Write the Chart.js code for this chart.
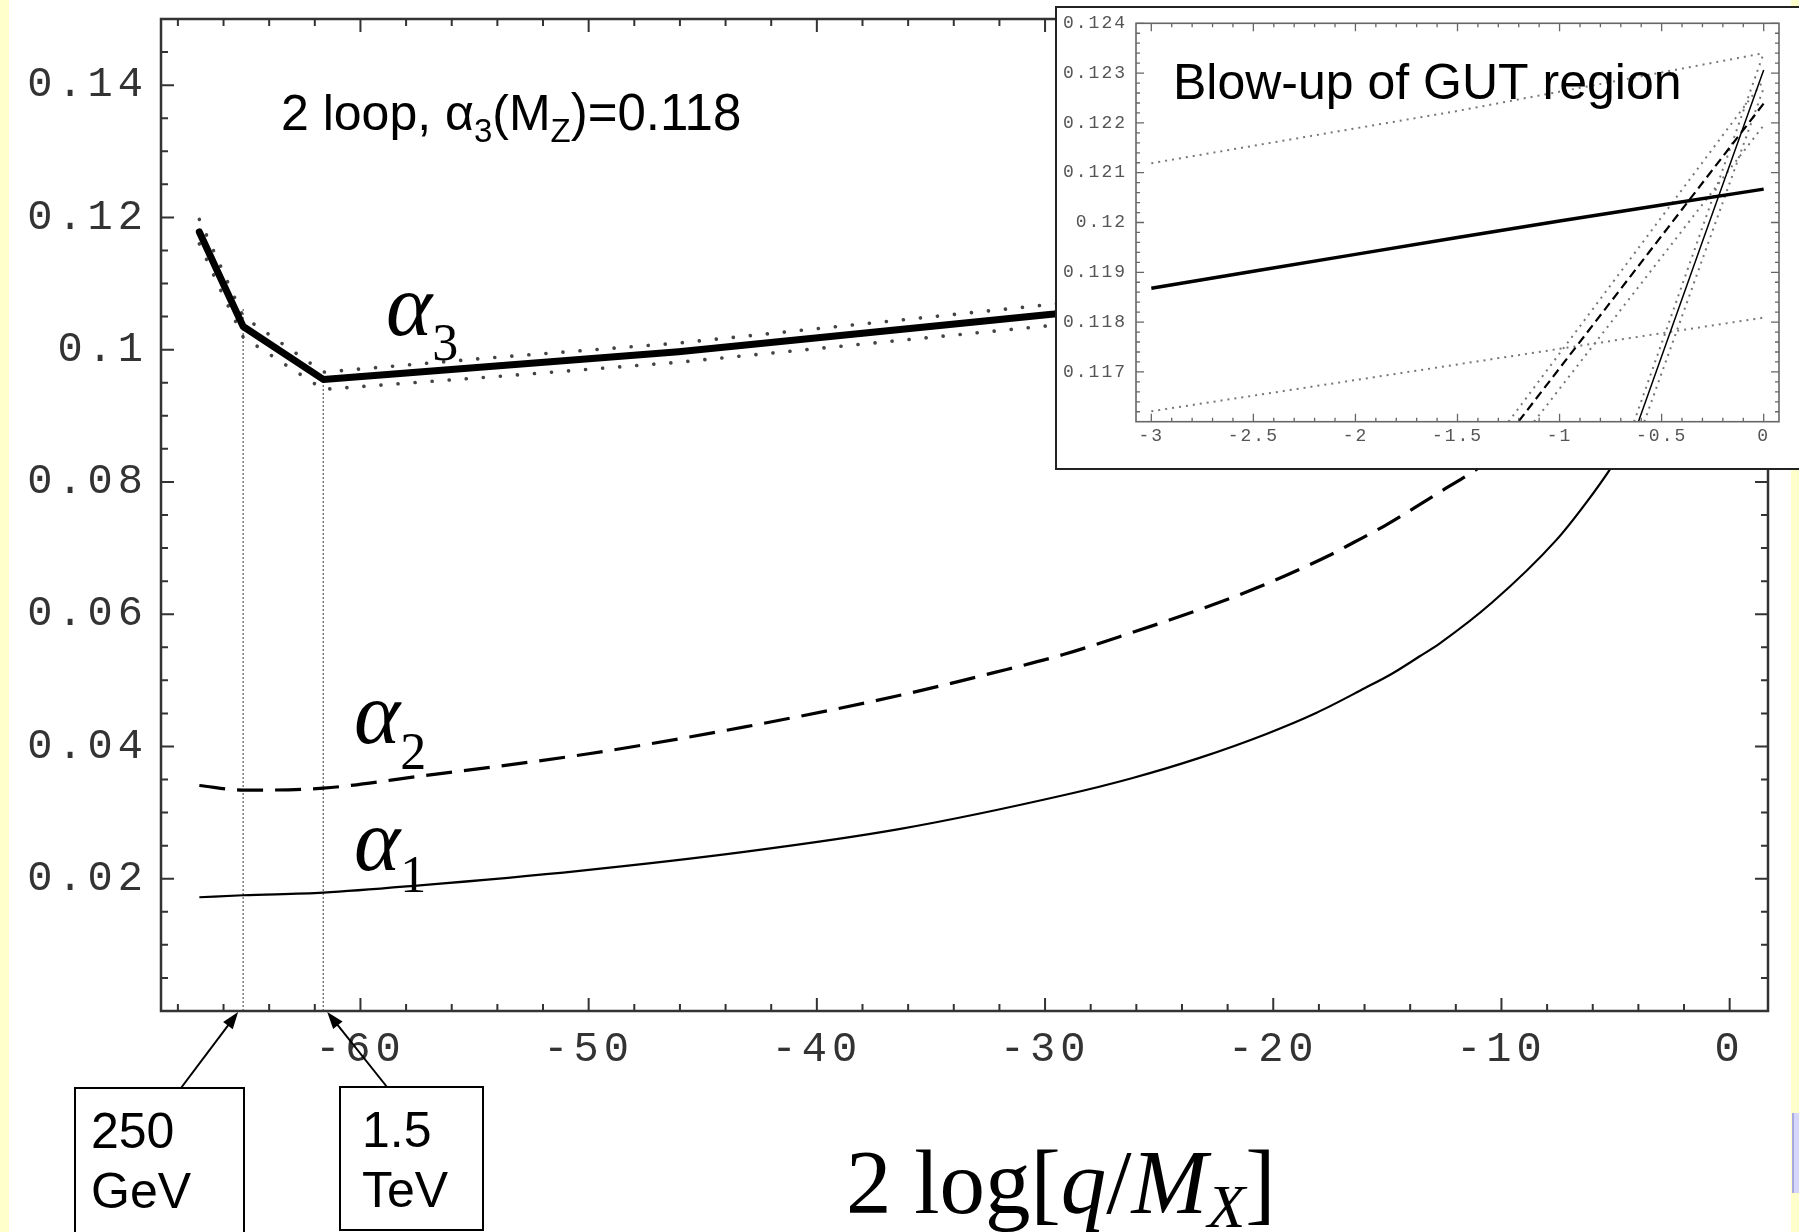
<!DOCTYPE html>
<html>
<head>
<meta charset="utf-8">
<script src="https://cdn.jsdelivr.net/npm/chart.js@4.4.1/dist/chart.umd.min.js"></script>
<style>
  html, body { margin: 0; padding: 0; background: #fff; overflow: hidden; }
  #page { position: relative; width: 1799px; height: 1232px; background: #fff; overflow: hidden; }
  .strip { position: absolute; top: 0; height: 1232px; background: #ffffcc; }
  #navTab { position: absolute; left: 1792px; top: 1113px; width: 12px; height: 80px;
            background: #d6d6fa; border-left: 2px solid #a8a8e0; }
  #mainChart { position: absolute; left: 0; top: 0; }
  #inset { position: absolute; left: 1055px; top: 6px; width: 760px; height: 460px;
           border: 2px solid #222; background: #fff; }
  #insetChart { display: block; }
</style>
</head>
<body>
<div id="page">
  <div class="strip" style="left:0;width:9px"></div>
  <div class="strip" style="left:1791px;width:8px"></div>
  <div id="navTab"></div>
  <canvas id="mainChart" width="1799" height="1232"></canvas>
  <div id="inset"><canvas id="insetChart" width="760" height="460"></canvas></div>
</div>
<script>
// couplings vs 2 log(q/M_X), two-loop running, alpha3(MZ) = 0.118
const a3X  = [-67.06, -66.1, -65.14, -61.63, -54.2, -46.06, -29.6, -20, -10, -3, 0];
const a3Y  = [0.1178, 0.1106, 0.1035, 0.0955, 0.0975, 0.0997, 0.1054, 0.1099, 0.1148, 0.1187, 0.1207];
const a3Hi = [0.1197, 0.1124, 0.1050, 0.0966, 0.0988, 0.1010, 0.1069, 0.1116, 0.1168, 0.1212, 0.1234];
const a3Lo = [0.1160, 0.1088, 0.1019, 0.0940, 0.0959, 0.0981, 0.1037, 0.1080, 0.1126, 0.1162, 0.1181];

const a2X = [-67.06, -65.14, -61.63, -57.4, -50, -43.1, -36.4, -32.2, -29.2, -26.3, -23.4, -20.5,
             -17.6, -16.5, -15.1, -13.8, -12.5, -11.1, -9, -7, -5, -3, -1.2, 0];
const a2Y = [0.0341, 0.0334, 0.0337, 0.0355, 0.0389, 0.0430, 0.0477, 0.0512, 0.0539, 0.0571, 0.0605, 0.0643,
             0.0688, 0.0708, 0.0734, 0.0761, 0.0789, 0.0819, 0.0874, 0.0933, 0.1001, 0.1080, 0.1160, 0.1224];

const a1X = [-67.06, -65.14, -61.63, -57.4, -50.4, -43.1, -36.4, -29.1, -26.2, -23.3, -20.3, -18.1,
             -16, -14.8, -13.6, -12.7, -10.4, -7.6, -6.3, -5.15, -4, -3, -2, -1, -0.61, 0];
const a1Y = [0.0172, 0.0175, 0.0179, 0.0190, 0.0212, 0.0241, 0.0275, 0.0327, 0.0352, 0.0382, 0.0419, 0.0451,
             0.0488, 0.0510, 0.0536, 0.0556, 0.0618, 0.0712, 0.0768, 0.0824, 0.0889, 0.0956, 0.1033, 0.1123, 0.1162, 0.1231];

// 250 GeV and 1.5 TeV thresholds
const thresholdX   = [-65.14, -61.63];
const thresholdTop = [0.1063, 0.0960];
const thresholdTags = [['250', 'GeV'], ['1.5', 'TeV']];

const xTicks = [-60, -50, -40, -30, -20, -10, 0];
const yTicks = [0.02, 0.04, 0.06, 0.08, 0.1, 0.12, 0.14];

// blow-up near the unification point
const inA3X  = [-3, -2.5, -2, -1.5, -1, -0.5, 0];
const inA3Y  = [0.11868, 0.11902, 0.11936, 0.11970, 0.12003, 0.12035, 0.12067];
const inA3BandX = [-3, -1.5, 0];
const inA3Hi = [0.12119, 0.12224, 0.12340];
const inA3Lo = [0.11621, 0.11715, 0.11809];
const inA2X  = [-1.2, -0.6, 0];
const inA2Y  = [0.11601, 0.11920, 0.12239];
const inA2HiX = [-1.25, 0],  inA2Hi = [0.116, 0.12285];
const inA2LoX = [-1.125, 0], inA2Lo = [0.116, 0.12195];
const inA1X  = [-0.613, -0.3, 0];
const inA1Y  = [0.11601, 0.11962, 0.12306];
const inA1HiX = [-0.635, 0], inA1Hi = [0.116, 0.1234];
const inA1LoX = [-0.585, 0], inA1Lo = [0.116, 0.1227];

const inXTicks = [-3, -2.5, -2, -1.5, -1, -0.5, 0];
const inYTicks = [0.117, 0.118, 0.119, 0.12, 0.121, 0.122, 0.123, 0.124];

const pts = (xs, ys) => xs.map((x, i) => ({ x, y: ys[i] }));
const range = (a, b, step) => { const r = []; for (let v = a; v <= b + 1e-9; v += step) r.push(+v.toFixed(6)); return r; };

function line(data, width, extra) {
  return Object.assign({ data, borderColor: '#000', borderWidth: width, pointRadius: 0,
                         tension: 0, fill: false, borderJoinStyle: 'round' }, extra || {});
}

// scale fitted to a fixed size, no room kept for overhanging end labels
function fixedSize(prop, size) {
  return s => {
    s[prop] = size;
    s.paddingTop = 0; s.paddingBottom = 0; s.paddingLeft = 0; s.paddingRight = 0;
  };
}

// inward Mathematica-style ticks on all four sides plus the frame
function frameTicks(o) {
  return {
    id: 'frameTicks',
    beforeDraw(chart) { chart.ctx.letterSpacing = o.spacing; },
    beforeDatasetsDraw(chart) { chart.ctx.letterSpacing = '0px'; },
    afterDraw(chart) {
      const { ctx, chartArea: a, scales: { x, y } } = chart;
      ctx.save();
      ctx.strokeStyle = o.color;
      ctx.lineWidth = o.tickWidth;
      ctx.beginPath();
      const xs = (vals, len) => vals.forEach(v => {
        const p = x.getPixelForValue(v);
        ctx.moveTo(p, a.bottom); ctx.lineTo(p, a.bottom - len);
        ctx.moveTo(p, a.top); ctx.lineTo(p, a.top + len);
      });
      const ys = (vals, len) => vals.forEach(v => {
        const p = y.getPixelForValue(v);
        ctx.moveTo(a.left, p); ctx.lineTo(a.left + len, p);
        ctx.moveTo(a.right, p); ctx.lineTo(a.right - len, p);
      });
      xs(o.xMajor, o.major); xs(o.xMinor, o.minor);
      ys(o.yMajor, o.major); ys(o.yMinor, o.minor);
      ctx.stroke();
      ctx.lineWidth = o.frameWidth;
      ctx.strokeRect(a.left, a.top, a.right - a.left, a.bottom - a.top);
      ctx.restore();
    }
  };
}

function drawRuns(ctx, x, y, runs) {
  for (const [t, font, dy] of runs) {
    ctx.font = font;
    ctx.fillText(t, x, y + dy);
    x += ctx.measureText(t).width;
  }
  return x;
}

function arrow(ctx, x0, y0, x1, y1) {
  const ang = Math.atan2(y1 - y0, x1 - x0), L = 17, W = 6;
  ctx.beginPath(); ctx.moveTo(x0, y0);
  ctx.lineTo(x1 - Math.cos(ang) * L * 0.8, y1 - Math.sin(ang) * L * 0.8); ctx.stroke();
  ctx.beginPath();
  ctx.moveTo(x1, y1);
  ctx.lineTo(x1 - Math.cos(ang) * L - Math.sin(ang) * W, y1 - Math.sin(ang) * L + Math.cos(ang) * W);
  ctx.lineTo(x1 - Math.cos(ang) * L + Math.sin(ang) * W, y1 - Math.sin(ang) * L - Math.cos(ang) * W);
  ctx.closePath(); ctx.fill();
}

const mainLabels = {
  id: 'mainLabels',
  afterDraw(chart) {
    const { ctx, scales: { x } } = chart;
    ctx.save();
    ctx.fillStyle = '#000';
    ctx.strokeStyle = '#000';
    ctx.textBaseline = 'alphabetic';
    const sans = n => n + 'px "Liberation Sans", Arial, sans-serif';
    const serif = (n, it) => (it ? 'italic ' : '') + n + 'px "Liberation Serif", "Times New Roman", serif';

    drawRuns(ctx, 281, 130, [['2 loop, α', sans(50), 0], ['3', sans(33), 12],
      ['(M', sans(50), 0], ['Z', sans(33), 12], [')=0.118', sans(51), 0]]);

    drawRuns(ctx, 386, 335, [['α', serif(88, true), 0], ['3', serif(52), 25]]);
    drawRuns(ctx, 354, 743, [['α', serif(88, true), 0], ['2', serif(52), 26]]);
    drawRuns(ctx, 354, 870, [['α', serif(88, true), 0], ['1', serif(52), 22]]);

    drawRuns(ctx, 846, 1213, [['2 log[', serif(91), 0], ['q', serif(91, true), 0], ['/', serif(91), 0],
      ['M', serif(91, true), 0], ['X', serif(62, true), 14], [']', serif(91), 0]]);

    // threshold boxes with arrows onto the axis
    const boxes = [{ l: 75, t: 1088, w: 169, h: 160, tail: 181, dx: -5 },
                   { l: 340, t: 1087, w: 143, h: 143, tail: 387, dx: 4 }];
    ctx.lineWidth = 2;
    boxes.forEach((b, i) => {
      ctx.strokeRect(b.l, b.t, b.w, b.h);
      ctx.font = sans(50);
      ctx.fillText(thresholdTags[i][0], b.l + (i ? 22 : 16), b.t + 60);
      ctx.fillText(thresholdTags[i][1], b.l + (i ? 22 : 16), b.t + 120);
      arrow(ctx, b.tail, b.t, x.getPixelForValue(thresholdX[i]) + b.dx, chart.chartArea.bottom + 1);
    });
    ctx.restore();
  }
};

const tickFont = { family: '"Liberation Mono", "Courier New", monospace', size: 42 };

new Chart(document.getElementById('mainChart'), {
  type: 'line',
  data: {
    datasets: [
      line(pts(a3X, a3Y), 7, { borderCapStyle: 'round' }),
      line(pts(a2X, a2Y), 3.2, { borderDash: [26, 12], cubicInterpolationMode: 'monotone' }),
      line(pts(a1X, a1Y), 2.2, { cubicInterpolationMode: 'monotone' }),
      line(pts(a3X, a3Hi), 3.6, { borderColor: '#444', borderDash: [0.1, 17], borderCapStyle: 'round' }),
      line(pts(a3X, a3Lo), 3.6, { borderColor: '#444', borderDash: [0.1, 17], borderCapStyle: 'round' }),
      ...thresholdX.map((tx, i) => line([{ x: tx, y: 0 }, { x: tx, y: thresholdTop[i] }], 1.3,
        { borderColor: '#666', borderDash: [2, 2] }))
    ]
  },
  options: {
    responsive: false,
    animation: false,
    events: [],
    layout: { padding: { top: 19, right: 31, left: 0, bottom: 0 } },
    plugins: { legend: { display: false }, tooltip: { enabled: false } },
    scales: {
      x: {
        type: 'linear', min: -68.74, max: 1.68,
        grid: { display: false, drawTicks: false }, border: { display: false },
        ticks: { font: tickFont, color: '#333', padding: 14, maxRotation: 0, autoSkip: false,
                 callback: v => String(v) },
        afterBuildTicks: s => { s.ticks = xTicks.map(v => ({ value: v })); },
        afterFit: fixedSize('height', 221)
      },
      y: {
        type: 'linear', min: 0, max: 0.15,
        grid: { display: false, drawTicks: false }, border: { display: false },
        ticks: { font: tickFont, color: '#333', padding: 13, autoSkip: false,
                 callback: v => String(v) },
        afterBuildTicks: s => { s.ticks = yTicks.map(v => ({ value: v })); },
        afterFit: fixedSize('width', 161)
      }
    }
  },
  plugins: [
    frameTicks({ color: '#333', tickWidth: 2, frameWidth: 2.5, major: 13, minor: 7, spacing: '5px',
                 xMajor: xTicks, xMinor: range(-68, 0, 2).filter(v => v % 10 !== 0),
                 yMajor: yTicks, yMinor: range(0.005, 0.145, 0.005).filter(v => Math.round(v * 1000) % 20 !== 0) }),
    mainLabels
  ]
});

const insetTitle = {
  id: 'insetTitle',
  afterDraw(chart) {
    const ctx = chart.ctx;
    ctx.save();
    ctx.fillStyle = '#000';
    ctx.font = '50px "Liberation Sans", Arial, sans-serif';
    ctx.fillText('Blow-up of GUT region', 116, 91);
    ctx.restore();
  }
};

const dotted = (data) => line(data, 2, { borderColor: '#777', borderDash: [2, 5] });
const inFont = { family: '"Liberation Mono", "Courier New", monospace', size: 18 };

new Chart(document.getElementById('insetChart'), {
  type: 'line',
  data: {
    datasets: [
      line(pts(inA3X, inA3Y), 3.5),
      line(pts(inA2X, inA2Y), 2.2, { borderDash: [9, 5] }),
      line(pts(inA1X, inA1Y), 1.5),
      dotted(pts(inA3BandX, inA3Hi)),
      dotted(pts(inA3BandX, inA3Lo)),
      dotted(pts(inA2HiX, inA2Hi)),
      dotted(pts(inA2LoX, inA2Lo)),
      dotted(pts(inA1HiX, inA1Hi)),
      dotted(pts(inA1LoX, inA1Lo))
    ]
  },
  options: {
    responsive: false,
    animation: false,
    events: [],
    layout: { padding: { top: 15.3, right: 38, left: 0, bottom: 0 } },
    plugins: { legend: { display: false }, tooltip: { enabled: false } },
    scales: {
      x: {
        type: 'linear', min: -3.075, max: 0.075,
        grid: { display: false, drawTicks: false }, border: { display: false },
        ticks: { font: inFont, color: '#555', padding: 4, maxRotation: 0, autoSkip: false,
                 callback: v => String(v) },
        afterBuildTicks: s => { s.ticks = inXTicks.map(v => ({ value: v })); },
        afterFit: fixedSize('height', 46.3)
      },
      y: {
        type: 'linear', min: 0.116, max: 0.124,
        grid: { display: false, drawTicks: false }, border: { display: false },
        ticks: { font: inFont, color: '#555', padding: 9, autoSkip: false,
                 callback: v => String(v) },
        afterBuildTicks: s => { s.ticks = inYTicks.map(v => ({ value: v })); },
        afterFit: fixedSize('width', 79)
      }
    }
  },
  plugins: [
    frameTicks({ color: '#666', tickWidth: 1.3, frameWidth: 1.6, major: 8, minor: 4, spacing: '2px',
                 xMajor: inXTicks, xMinor: range(-3, 0, 0.1).filter(v => Math.abs(v * 2 - Math.round(v * 2)) > 1e-6),
                 yMajor: inYTicks, yMinor: range(0.1162, 0.1238, 0.0002).filter(v => Math.abs(v * 1000 - Math.round(v * 1000)) > 1e-6) }),
    insetTitle
  ]
});
</script>
</body>
</html>
